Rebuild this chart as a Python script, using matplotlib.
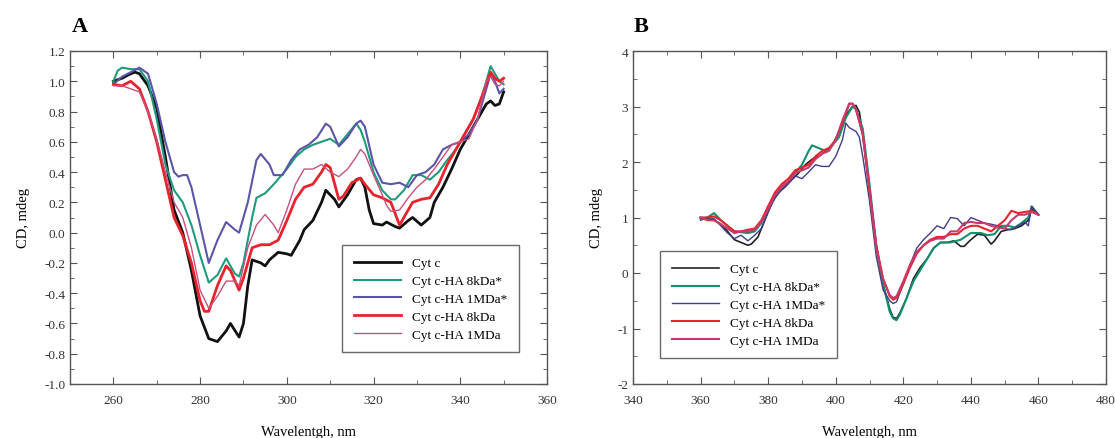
import matplotlib
matplotlib.use("Agg")
import matplotlib.pyplot as plt
from matplotlib.ticker import MultipleLocator, FormatStrFormatter

plt.rcParams['font.family'] = ['Liberation Serif', 'DejaVu Serif']
plt.rcParams['axes.unicode_minus'] = False

# ---- panel A (near-UV region) ----
a_cytc_x = [260, 262, 264, 265, 266, 268, 270, 272, 274, 276, 278, 280, 282, 284, 286, 287, 289, 290, 291,
            292, 294, 295, 296, 298, 300, 301, 303, 304, 306, 308, 309, 311, 312, 314, 316, 317, 318, 319,
            320, 322, 323, 325, 326, 328, 329, 331, 333, 334, 336, 338, 340, 342, 344, 346, 347, 348, 349, 350]
a_cytc_y = [1.00, 1.02, 1.05, 1.06, 1.05, 0.97, 0.82, 0.50, 0.15, 0.00, -0.25, -0.55, -0.70, -0.72, -0.65,
            -0.60, -0.69, -0.60, -0.35, -0.18, -0.20, -0.22, -0.18, -0.13, -0.14, -0.15, -0.05, 0.02, 0.08,
            0.20, 0.28, 0.22, 0.17, 0.25, 0.35, 0.36, 0.30, 0.15, 0.06, 0.05, 0.07, 0.04, 0.03, 0.08, 0.10,
            0.05, 0.10, 0.20, 0.30, 0.42, 0.55, 0.65, 0.75, 0.85, 0.87, 0.84, 0.85, 0.93]

a_8k_s_x = [260, 261, 262, 264, 266, 268, 270, 272, 274, 276, 278, 280, 282, 284, 286, 288, 289, 290, 292,
            293, 295, 297, 300, 302, 304, 306, 308, 310, 312, 314, 316, 317, 318, 320, 322, 324, 325, 327,
            329, 331, 333, 335, 337, 339, 341, 343, 345, 347, 348, 349, 350]
a_8k_s_y = [1.00, 1.07, 1.09, 1.08, 1.08, 1.00, 0.75, 0.45, 0.28, 0.20, 0.05, -0.15, -0.33, -0.28, -0.17,
            -0.27, -0.29, -0.20, 0.10, 0.23, 0.26, 0.32, 0.42, 0.50, 0.55, 0.58, 0.60, 0.62, 0.58, 0.65, 0.72,
            0.68, 0.60, 0.40, 0.28, 0.22, 0.22, 0.28, 0.38, 0.38, 0.35, 0.40, 0.48, 0.55, 0.65, 0.75, 0.90,
            1.10, 1.05, 1.00, 0.98]

a_1m_s_x = [260, 262, 264, 266, 268, 270, 272, 274, 275, 276, 277, 278, 280, 282, 284, 286, 288, 289, 291,
            293, 294, 296, 297, 299, 301, 303, 305, 307, 309, 310, 312, 314, 316, 317, 318, 320, 322, 324,
            326, 328, 330, 332, 334, 336, 338, 340, 342, 344, 346, 347, 348, 349, 350]
a_1m_s_y = [0.98, 1.03, 1.06, 1.09, 1.05, 0.85, 0.60, 0.40, 0.37, 0.38, 0.38, 0.30, 0.05, -0.20, -0.05,
            0.07, 0.02, 0.00, 0.20, 0.48, 0.52, 0.45, 0.38, 0.38, 0.48, 0.55, 0.58, 0.63, 0.72, 0.70, 0.57,
            0.63, 0.72, 0.74, 0.70, 0.45, 0.33, 0.32, 0.33, 0.30, 0.38, 0.40, 0.45, 0.55, 0.58, 0.60, 0.65,
            0.75, 0.95, 1.05, 1.00, 0.92, 0.95]

a_8k_x = [260, 262, 264, 266, 268, 270, 272, 274, 276, 278, 280, 281, 282, 284, 286, 287, 289, 290, 292,
          294, 296, 298, 300, 302, 304, 306, 308, 309, 310, 312, 313, 315, 317, 318, 320, 322, 324, 326,
          327, 329, 331, 333, 335, 337, 339, 341, 343, 345, 347, 348, 349, 350]
a_8k_y = [0.98, 0.97, 1.00, 0.95, 0.80, 0.60, 0.35, 0.10, -0.02, -0.20, -0.45, -0.52, -0.52, -0.35, -0.22,
          -0.25, -0.38, -0.30, -0.10, -0.08, -0.08, -0.05, 0.08, 0.22, 0.30, 0.32, 0.40, 0.45, 0.43, 0.22,
          0.24, 0.33, 0.36, 0.32, 0.25, 0.23, 0.20, 0.05, 0.10, 0.20, 0.22, 0.23, 0.32, 0.45, 0.55, 0.65,
          0.75, 0.90, 1.06, 1.02, 1.00, 1.02]

a_1m_x = [260, 262, 264, 266, 268, 270, 272, 274, 276, 278, 280, 282, 284, 286, 288, 289, 291, 293, 295,
          297, 298, 300, 302, 304, 306, 308, 310, 312, 314, 316, 317, 318, 320, 322, 323, 324, 326, 328,
          330, 332, 334, 336, 338, 340, 342, 344, 346, 347, 348, 349, 350]
a_1m_y = [0.97, 0.97, 0.95, 0.93, 0.80, 0.62, 0.40, 0.20, 0.10, -0.10, -0.38, -0.50, -0.42, -0.32, -0.32,
          -0.35, -0.10, 0.05, 0.12, 0.05, 0.00, 0.15, 0.32, 0.42, 0.42, 0.45, 0.40, 0.37, 0.42, 0.50, 0.55,
          0.52, 0.38, 0.25, 0.18, 0.14, 0.15, 0.23, 0.30, 0.35, 0.42, 0.50, 0.58, 0.60, 0.62, 0.75, 1.00,
          1.03, 0.98, 0.97, 1.00]

# ---- panel B (Soret region) ----
b_cytc_x = [360, 362, 364, 366, 368, 370, 372, 374, 375, 377, 379, 381, 383, 385, 387, 389, 391, 393, 395,
            397, 399, 401, 403, 405, 406, 407, 408, 410, 412, 414, 416, 417, 418, 419, 421, 423, 425, 427,
            429, 431, 433, 435, 437, 438, 440, 442, 444, 446, 447, 449, 451, 453, 455, 457, 458, 459, 460]
b_cytc_y = [1.00, 0.98, 0.95, 0.88, 0.75, 0.60, 0.55, 0.50, 0.52, 0.65, 0.95, 1.25, 1.45, 1.55, 1.68, 1.80,
            1.95, 2.05, 2.10, 2.20, 2.30, 2.55, 2.85, 3.00, 3.02, 2.90, 2.50, 1.50, 0.50, -0.20, -0.65, -0.80,
            -0.82, -0.72, -0.45, -0.10, 0.10, 0.25, 0.45, 0.55, 0.55, 0.58, 0.48, 0.48, 0.60, 0.70, 0.68,
            0.52, 0.58, 0.75, 0.78, 0.80, 0.85, 0.95, 1.15, 1.10, 1.05]

b_8k_s_x = [360, 362, 364, 366, 370, 374, 376, 378, 380, 382, 384, 386, 388, 390, 392, 393, 395, 397, 399,
            401, 403, 405, 406, 408, 410, 412, 414, 416, 417, 418, 419, 421, 423, 425, 427, 429, 431, 434,
            437, 440, 443, 445, 447, 449, 451, 453, 455, 457, 458, 460]
b_8k_s_y = [0.98, 1.00, 1.08, 0.95, 0.75, 0.72, 0.75, 0.90, 1.20, 1.40, 1.55, 1.65, 1.80, 1.95, 2.20, 2.30,
            2.25, 2.20, 2.30, 2.45, 2.80, 3.00, 2.95, 2.60, 1.60, 0.50, -0.20, -0.70, -0.82, -0.85, -0.75,
            -0.45, -0.15, 0.05, 0.25, 0.45, 0.55, 0.55, 0.60, 0.72, 0.72, 0.68, 0.70, 0.85, 0.85, 0.82, 0.90,
            1.00, 1.20, 1.05]

b_1m_s_x = [360, 362, 364, 366, 368, 370, 372, 374, 376, 378, 380, 382, 384, 386, 388, 390, 392, 394, 396,
            398, 400, 402, 403, 404, 406, 407, 408, 410, 412, 414, 416, 417, 418, 420, 422, 424, 426, 428,
            430, 432, 434, 436, 438, 440, 442, 444, 446, 448, 450, 452, 454, 456, 457, 458, 460]
b_1m_s_y = [0.95, 1.00, 0.98, 0.85, 0.72, 0.62, 0.68, 0.58, 0.68, 0.80, 1.10, 1.35, 1.50, 1.62, 1.75, 1.70,
            1.82, 1.95, 1.92, 1.92, 2.10, 2.40, 2.70, 2.62, 2.55, 2.45, 2.10, 1.30, 0.30, -0.30, -0.50,
            -0.55, -0.52, -0.20, 0.15, 0.45, 0.60, 0.72, 0.85, 0.80, 1.00, 0.98, 0.85, 1.00, 0.95, 0.90,
            0.88, 0.85, 0.80, 0.78, 0.85, 0.92, 0.85, 1.20, 1.05]

b_8k_x = [360, 362, 364, 366, 368, 370, 372, 374, 376, 378, 380, 382, 384, 386, 388, 390, 392, 394, 396,
          398, 400, 402, 404, 405, 406, 408, 410, 412, 414, 416, 417, 418, 420, 422, 424, 426, 428, 430,
          432, 434, 436, 438, 440, 442, 444, 446, 448, 450, 452, 454, 456, 458, 460]
b_8k_y = [1.00, 1.00, 1.02, 0.95, 0.85, 0.75, 0.75, 0.78, 0.80, 0.95, 1.20, 1.45, 1.60, 1.70, 1.85, 1.90,
          1.95, 2.10, 2.20, 2.25, 2.40, 2.70, 3.05, 3.05, 2.95, 2.50, 1.50, 0.50, -0.10, -0.42, -0.48,
          -0.45, -0.20, 0.10, 0.35, 0.50, 0.60, 0.65, 0.65, 0.70, 0.70, 0.80, 0.85, 0.85, 0.80, 0.75, 0.85,
          0.95, 1.12, 1.08, 1.10, 1.12, 1.05]

b_1m_x = [360, 362, 364, 366, 368, 370, 372, 374, 376, 378, 380, 382, 384, 386, 388, 390, 392, 394, 396,
          398, 400, 402, 404, 405, 406, 408, 410, 412, 414, 416, 417, 418, 420, 422, 424, 426, 428, 430,
          432, 434, 436, 438, 440, 442, 444, 446, 448, 450, 452, 454, 456, 458, 460]
b_1m_y = [1.00, 0.95, 0.95, 0.88, 0.80, 0.72, 0.75, 0.75, 0.78, 0.92, 1.15, 1.40, 1.55, 1.65, 1.80, 1.85,
          1.90, 2.05, 2.15, 2.20, 2.40, 2.75, 3.05, 3.05, 2.95, 2.50, 1.50, 0.45, -0.10, -0.40, -0.45,
          -0.42, -0.15, 0.15, 0.38, 0.50, 0.58, 0.62, 0.62, 0.75, 0.75, 0.90, 0.92, 0.90, 0.90, 0.85, 0.82,
          0.80, 0.95, 1.05, 1.05, 1.10, 1.05]

labels = ['Cyt c', 'Cyt c-HA 8kDa*', 'Cyt c-HA 1MDa*', 'Cyt c-HA 8kDa', 'Cyt c-HA 1MDa']
colors = ['#111111', '#1f9b7c', '#5a55a8', '#e8232c', '#c8507e']

fig = plt.figure(figsize=(11.15, 4.39), dpi=100)
axA = fig.add_axes([70 / 1115, 54 / 439, 477 / 1115, 333 / 439])
axB = fig.add_axes([633 / 1115, 54 / 439, 473 / 1115, 333 / 439])

seriesA = [(a_cytc_x, a_cytc_y), (a_8k_s_x, a_8k_s_y), (a_1m_s_x, a_1m_s_y), (a_8k_x, a_8k_y), (a_1m_x, a_1m_y)]
widthsA = [2.0, 1.5, 1.5, 2.0, 1.0]
for (x, y), c, lw, lab in zip(seriesA, colors, widthsA, labels):
    axA.plot(x, y, color=c, lw=lw, label=lab)

seriesB = [(b_cytc_x, b_cytc_y), (b_8k_s_x, b_8k_s_y), (b_1m_s_x, b_1m_s_y), (b_8k_x, b_8k_y), (b_1m_x, b_1m_y)]
colorsB = ['#222222', '#12906c', '#3e3f88', '#e8232c', '#c83a6c']
widthsB = [1.2, 1.5, 1.0, 1.5, 1.5]
for (x, y), c, lw, lab in zip(seriesB, colorsB, widthsB, labels):
    axB.plot(x, y, color=c, lw=lw, label=lab)

axA.set_xlim(250, 360)
axA.set_ylim(-1.0, 1.2)
axA.xaxis.set_major_locator(MultipleLocator(20))
axA.xaxis.set_minor_locator(MultipleLocator(10))
axA.yaxis.set_major_locator(MultipleLocator(0.2))
axA.yaxis.set_minor_locator(MultipleLocator(0.1))
axA.yaxis.set_major_formatter(FormatStrFormatter('%.1f'))

axB.set_xlim(340, 480)
axB.set_ylim(-2, 4)
axB.xaxis.set_major_locator(MultipleLocator(20))
axB.xaxis.set_minor_locator(MultipleLocator(10))
axB.yaxis.set_major_locator(MultipleLocator(1))
axB.yaxis.set_minor_locator(MultipleLocator(0.5))

for ax in (axA, axB):
    for s in ax.spines.values():
        s.set_color('#555555')
        s.set_linewidth(1.0)
    ax.tick_params(which='both', direction='in', top=True, right=True, color='#555555',
                   labelsize=9.5, labelcolor='#333333')
    ax.tick_params(which='major', length=5)
    ax.tick_params(which='minor', length=3)
    ax.tick_params(axis='x', pad=7)
    ax.set_xlabel('Wavelentgh, nm', fontsize=10.5, labelpad=14)
    ax.set_ylabel('CD, mdeg', fontsize=10.5, labelpad=10)

legA = axA.legend(loc='lower left', bbox_to_anchor=(0.556, 0.075), fontsize=9.5, frameon=True,
                  fancybox=False, handlelength=3.6, labelspacing=0.42, borderpad=0.9)
legA.get_frame().set_edgecolor('#444444')
legA.get_frame().set_linewidth(1.0)

legB = axB.legend(loc='lower left', bbox_to_anchor=(0.043, 0.057), fontsize=9.5, frameon=True,
                  fancybox=False, handlelength=3.6, labelspacing=0.42, borderpad=0.9)
legB.get_frame().set_edgecolor('#444444')
legB.get_frame().set_linewidth(1.0)

fig.text(72 / 1115, 1 - 27 / 439, 'A', fontsize=16, fontweight='bold', va='center', ha='left')
fig.text(634 / 1115, 1 - 27 / 439, 'B', fontsize=16, fontweight='bold', va='center', ha='left')

fig.savefig('out.png', dpi=100)
